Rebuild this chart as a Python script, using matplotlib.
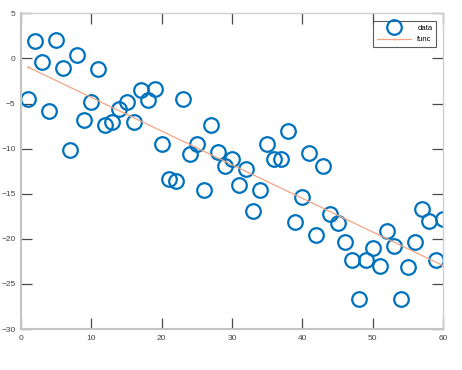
import numpy as np
import matplotlib
matplotlib.use("Agg")
import matplotlib.pyplot as plt

plt.rcParams['font.family'] = ['Liberation Sans', 'DejaVu Sans']

x_data = list(range(1, 61))
y_data = [-4.5, 1.9, -0.4, -5.8, 2.0, -1.1, -10.15, 0.4, -6.8, -4.85,
          -1.2, -7.4, -7.1, -5.6, -4.8, -7.1, -3.5, -4.6, -3.4, -9.5,
          -13.4, -13.6, -4.5, -10.6, -9.45, -14.6, -7.4, -10.4, -11.9, -11.2,
          -14.0, -12.3, -16.9, -14.6, -9.45, -11.1, -11.2, -8.0, -18.1, -15.4,
          -10.5, -19.6, -11.9, -17.3, -18.2, -20.4, -22.4, -26.7, -22.4, -21.0,
          -23.0, -19.15, -20.8, -26.7, -23.1, -20.4, -16.7, -18.0, -22.3, -17.85]
func_x = [1, 60]
func_y = [-0.97, -22.97]

x_ticks = [0, 10, 20, 30, 40, 50, 60]
y_ticks = [5, 0, -5, -10, -15, -20, -25, -30]

fig = plt.figure(figsize=(4.62, 3.70), dpi=100)
ax = fig.add_axes([21/462, 1-329/370, (443-21)/462, (329-13.3)/370])

ax.plot(x_data, y_data, 'o', linestyle='none', markersize=10.5,
        markerfacecolor='none', markeredgecolor='#0072BD', markeredgewidth=1.6,
        label='data')
ax.plot(func_x, func_y, '-', color='#F2A585', linewidth=0.9, marker='.',
        markersize=1, label='func')

ax.set_xlim(0, 60)
ax.set_ylim(-30, 5)
ax.set_xticks(x_ticks)
ax.set_yticks(y_ticks)
ax.tick_params(direction='in', length=7.7, width=0.9, color='#4a4a4a',
               labelsize=6, labelcolor='#444444', top=True, right=True,
               pad=4)
for side in ['left', 'bottom']:
    ax.spines[side].set_color('#c4c4c4')
    ax.spines[side].set_linewidth(1.5)
for side in ['top', 'right']:
    ax.spines[side].set_color('#d0d0d0')
    ax.spines[side].set_linewidth(1.0)

leg = ax.legend(loc='upper right', fontsize=5.5, frameon=True, fancybox=False,
                edgecolor='#333333', borderpad=0.45, handlelength=4.5,
                labelspacing=0.55, borderaxespad=0,
                bbox_to_anchor=(0.983, 0.976))
leg.get_frame().set_linewidth(0.8)

fig.savefig('out.png', dpi=100)
